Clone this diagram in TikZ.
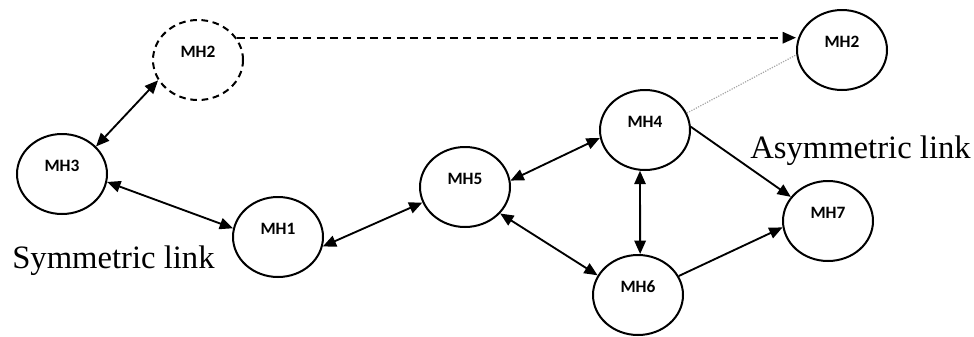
\documentclass[tikz,border=0pt]{standalone}
\usepackage{fontspec}
\setmainfont{Liberation Serif}
\newfontfamily\labfont{Carlito}
\usetikzlibrary{shapes.geometric,arrows.meta}
\tikzset{
  mh/.style={ellipse,draw,line width=1.5pt,minimum width=67.5pt,minimum height=60pt,inner sep=0pt,
    font=\labfont\bfseries\fontsize{13}{13}\selectfont,text height=9pt,text depth=13pt},
  mhd/.style={mh,dash pattern=on 5pt off 3.5pt},
  tip/.style={},
  link/.style={line width=1.4pt,{Triangle[length=10pt,width=8.5pt]}-{Triangle[length=10pt,width=8.5pt]}},
  onelink/.style={line width=1.4pt,-{Triangle[length=10pt,width=8.5pt]}},
  dlink/.style={line width=1.5pt,dash pattern=on 6pt off 4pt,-{Triangle[length=10pt,width=8.5pt]}},
  glink/.style={line width=0.9pt,gray!70,densely dotted},
  caption/.style={font=\fontsize{24.5}{25}\selectfont,inner sep=0pt,anchor=base west}
}
\begin{document}
\begin{tikzpicture}[x=0.75pt,y=-0.75pt]
\useasboundingbox (0,0) rectangle (974,336);
\node[mhd] (d2) at (198,60) {MH2};
\node[mh] (r2) at (842,50) {MH2};
\node[mh] (m3) at (62,174) {MH3};
\node[mh] (m1) at (278,237) {MH1};
\node[mh] (m5) at (465,187) {MH5};
\node[mh] (m4) at (645,130) {MH4};
\node[mh] (m6) at (638,295) {MH6};
\node[mh] (m7) at (828,221) {MH7};
\node[caption] (sym) at (12,268) {Symmetric link};
\node[caption] (asym) at (750,158) {Asymmetric link};
\draw[link] (d2.207) -- (m3.39);
\draw[link] (m3.-10) -- (m1.169);
\draw[link] (m1.-12) -- (m5.200);
\draw[link] (m5.8) -- (m4.190);
\draw[link] (m5.-37) -- (m6.154);
\draw[link] (m4.263) -- (m6.87);
\draw[onelink] (m4.4) -- (m7.147);
\draw[onelink] (m6.25) -- (m7.188);
\draw[dlink] (d2.30) -- (d2.30 -| r2.west);
\draw[glink] (m4.22) -- (r2.186);
\end{tikzpicture}
\end{document}
